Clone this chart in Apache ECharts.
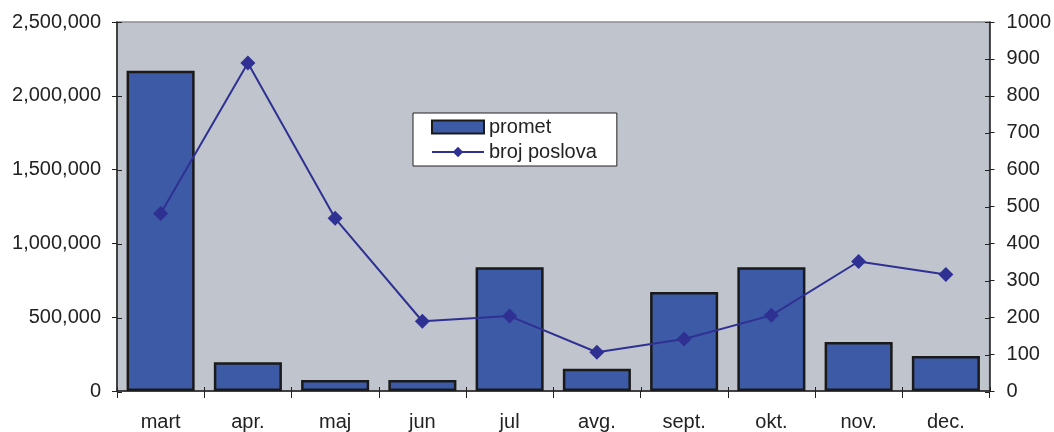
<!DOCTYPE html>
<html><head><meta charset="utf-8">
<script src="https://cdn.jsdelivr.net/npm/echarts@6/dist/echarts.min.js"></script>
<style>html,body{margin:0;padding:0;background:#fff}#c{width:1054px;height:432px}</style>
</head><body><div id="c"></div>
<script>
const categories = ['mart','apr.','maj','jun','jul','avg.','sept.','okt.','nov.','dec.'];
const promet = [2170000, 195000, 75000, 75000, 838000, 150000, 670000, 838000, 332000, 237000];
const brojPoslova = [481, 889, 468, 189, 203, 105, 141, 205, 351, 316];
const leftTicks = {min: 0, max: 2500000, interval: 500000};
const rightTicks = {min: 0, max: 1000, interval: 100};

const font = 'Liberation Sans, Arial, sans-serif';
const chart = echarts.init(document.getElementById('c'));
const ink = '#222';
const axisLine = {show: true, lineStyle: {color: ink, width: 1.5}};
const gridRect = {left: 117, right: 64, top: 22, bottom: 40};
const hiddenTicks = {show: true, inside: true, length: 5, lineStyle: {color: ink, width: 1}};
chart.setOption({
  animation: false,
  grid: [
    Object.assign({show: true, backgroundColor: '#c0c4cc', borderColor: '#8a8d93', borderWidth: 1.5}, gridRect),
    Object.assign({show: false}, gridRect)
  ],
  legend: {
    left: 413, top: 113, orient: 'vertical', backgroundColor: '#fff', borderColor: ink, borderWidth: 1,
    padding: [4, 20, 4, 18], itemGap: 5, itemWidth: 52, itemHeight: 13,
    textStyle: {fontFamily: font, fontSize: 20, color: ink},
    data: [{name: 'promet', icon: 'rect'}, {name: 'broj poslova'}]
  },
  xAxis: [{
    type: 'category', data: categories, boundaryGap: true, gridIndex: 0,
    axisLine: axisLine,
    axisTick: {show: true, length: 7, alignWithLabel: false, lineStyle: {color: ink, width: 1}},
    axisLabel: {fontFamily: font, fontSize: 20, color: ink, margin: 21},
    splitLine: {show: false}
  }, {
    type: 'category', data: categories, boundaryGap: true, gridIndex: 1, position: 'bottom',
    axisLine: {show: false}, axisTick: hiddenTicks, axisLabel: {show: false}, splitLine: {show: false}
  }],
  yAxis: [{
    type: 'value', min: leftTicks.min, max: leftTicks.max, interval: leftTicks.interval, gridIndex: 0,
    axisLine: axisLine,
    axisTick: {show: true, length: 5, lineStyle: {color: ink, width: 1}},
    axisLabel: {fontFamily: font, fontSize: 20, color: ink, margin: 16,
      formatter: v => v.toLocaleString('en-US')},
    splitLine: {show: false}
  }, {
    type: 'value', min: rightTicks.min, max: rightTicks.max, interval: rightTicks.interval, position: 'right', gridIndex: 0,
    axisLine: axisLine,
    axisTick: {show: true, length: 5, lineStyle: {color: ink, width: 1}},
    axisLabel: {fontFamily: font, fontSize: 20, color: ink, margin: 17, formatter: v => String(v)},
    splitLine: {show: false}
  }, {
    type: 'value', min: leftTicks.min, max: leftTicks.max, interval: leftTicks.interval, position: 'left', gridIndex: 1,
    axisLine: {show: false}, axisTick: hiddenTicks, axisLabel: {show: false}, splitLine: {show: false}
  }, {
    type: 'value', min: rightTicks.min, max: rightTicks.max, interval: rightTicks.interval, position: 'right', gridIndex: 1,
    axisLine: {show: false}, axisTick: hiddenTicks, axisLabel: {show: false}, splitLine: {show: false}
  }],
  series: [{
    name: 'promet', type: 'bar', data: promet, xAxisIndex: 0, yAxisIndex: 0, barWidth: '78%',
    itemStyle: {color: '#3d5aa6', borderColor: '#1a1a1a', borderWidth: 2.5}
  }, {
    name: 'broj poslova', type: 'line', data: brojPoslova, xAxisIndex: 0, yAxisIndex: 1,
    symbol: 'diamond', symbolSize: 15,
    lineStyle: {color: '#2e3192', width: 2},
    itemStyle: {color: '#2e3192'}
  }]
});
</script></body></html>
